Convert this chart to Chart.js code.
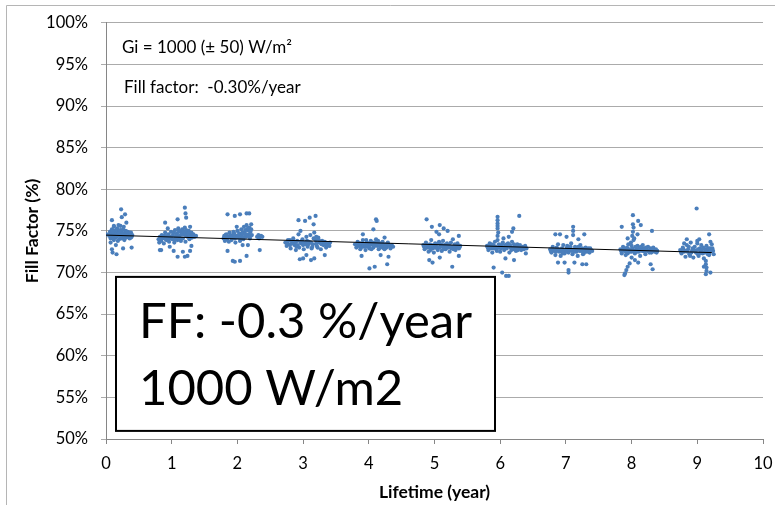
<!DOCTYPE html>
<html><head><meta charset="utf-8">
<script src="https://cdn.jsdelivr.net/npm/chart.js@4/dist/chart.umd.min.js"></script>
<style>html,body{margin:0;padding:0;background:#fff;}canvas{display:block;}</style>
</head><body>
<canvas id="c" width="775" height="505"></canvas>
<script>
// Fill factor (%) vs lifetime (year)
const year0 = [[0.05,74.4],[0.06,74.9],[0.07,74.1],[0.08,74.6],[0.09,75.2],[0.10,74.3],[0.11,74.8],[0.12,73.9],[0.13,74.5],[0.14,75.0],[0.15,74.2],[0.16,74.7],[0.17,75.3],[0.18,74.4],[0.19,74.9],[0.20,74.0],[0.21,74.6],[0.22,75.1],[0.23,74.3],[0.24,74.8],[0.25,74.5],[0.26,75.2],[0.27,74.1],[0.28,74.7],[0.29,74.4],[0.30,75.0],[0.31,74.2],[0.32,74.6],[0.33,74.9],[0.34,74.3],[0.35,74.7],[0.36,74.1],[0.37,74.5],[0.38,74.8],[0.39,74.3],[0.40,74.5],[0.12,75.5],[0.22,75.6],[0.18,73.8],[0.28,73.9],
  [0.06,74.6],[0.08,74.2],[0.10,74.9],[0.12,74.5],[0.14,74.3],[0.16,75.1],[0.18,74.6],[0.20,74.8],[0.22,74.4],[0.24,74.1],[0.26,74.7],[0.28,74.3],[0.30,74.6],[0.32,74.9],[0.34,74.5],[0.36,74.8],[0.38,74.2],[0.11,74.1],[0.21,75.0],[0.31,74.4],
  [0.23,77.6],[0.29,77.0],[0.24,76.65],[0.09,76.3],[0.31,76.0],[0.12,75.6],[0.19,75.7],[0.27,75.5],[0.09,72.8],[0.10,72.4],[0.16,72.2],[0.26,72.9],[0.39,73.0],[0.15,73.3],[0.07,73.6],[0.01,74.6]];
const year1 = [[0.80,74.0],[0.81,73.6],[0.82,74.3],[0.84,73.8],[0.85,74.5],[0.86,74.1],[0.88,73.5],[0.89,74.4],[0.90,74.8],[0.92,73.9],[0.93,74.2],[0.95,74.6],[0.96,73.7],[0.98,74.3],[0.99,74.9],[1.01,74.0],[1.02,74.5],[1.04,73.6],[1.05,75.1],[1.06,74.2],[1.08,74.7],[1.09,73.9],[1.10,75.3],[1.12,74.4],[1.13,74.9],[1.14,73.8],[1.16,75.2],[1.17,74.1],[1.19,74.6],[1.20,75.4],[1.21,73.7],[1.23,74.8],[1.24,74.3],[1.26,75.0],[1.27,74.0],[1.29,74.5],[1.31,74.2],[1.33,74.6],[1.35,74.3],[1.37,74.4],
  [0.83,74.1],[0.87,74.3],[0.91,74.0],[0.94,74.4],[0.97,74.1],[1.00,74.3],[1.03,74.8],[1.07,74.4],[1.11,74.1],[1.15,74.6],[1.18,74.9],[1.22,74.4],[1.25,74.7],[1.28,74.3],[1.30,74.8],[1.32,74.4],[1.11,75.0],[1.22,75.1],[0.95,74.2],[1.05,73.9],
  [1.20,77.8],[1.21,77.1],[1.22,76.6],[1.09,76.4],[0.90,76.0],[1.28,75.5],[0.94,75.3],[0.82,72.7],[0.84,72.7],[0.97,73.1],[1.09,71.9],[1.20,71.9],[1.24,72.0],[1.28,72.6],[1.17,72.5],[1.03,72.6],[1.30,73.2]];
const year2 = [[1.79,74.1],[1.80,74.4],[1.81,73.8],[1.83,74.6],[1.84,74.0],[1.86,74.3],[1.87,73.7],[1.88,74.8],[1.90,74.2],[1.91,73.9],[1.93,74.5],[1.94,74.9],[1.96,74.1],[1.97,73.6],[1.99,74.4],[2.00,75.0],[2.01,74.2],[2.03,74.7],[2.04,73.8],[2.06,75.2],[2.07,74.5],[2.09,74.0],[2.10,75.5],[2.11,74.8],[2.13,74.3],[2.14,75.7],[2.15,75.1],[2.17,74.6],[2.18,75.4],[2.19,74.1],[2.20,74.9],[2.21,75.8],[2.22,74.5],[2.30,74.3],[2.32,74.5],[2.34,74.2],[2.36,74.4],[2.38,74.3],[2.33,74.1],
  [1.80,74.2],[1.82,74.5],[1.85,74.2],[1.89,74.5],[1.92,74.2],[1.95,74.4],[1.98,74.2],[2.02,74.5],[2.05,74.3],[2.08,74.8],[2.12,75.1],[2.16,75.3],[2.19,75.0],[2.21,75.2],[2.08,74.2],[2.16,74.4],[2.12,74.6],[2.20,74.4],[1.95,74.7],[2.05,74.0],
  [1.85,77.0],[1.96,76.8],[2.04,77.0],[2.14,77.1],[2.18,77.1],[1.85,72.6],[1.93,71.4],[1.96,71.3],[2.04,71.4],[2.14,72.0],[1.99,75.5],[2.08,73.3],[2.16,73.3],[2.34,72.7]];
const year3 = [[2.73,73.6],[2.75,73.2],[2.77,73.9],[2.79,73.4],[2.81,72.9],[2.83,73.7],[2.85,74.1],[2.87,73.3],[2.89,72.7],[2.91,73.8],[2.93,74.6],[2.94,73.0],[2.96,75.0],[2.97,73.5],[2.99,74.0],[3.01,72.8],[3.03,73.6],[3.05,74.3],[3.07,73.1],[3.09,73.7],[3.11,74.5],[3.13,72.9],[3.15,73.4],[3.17,74.8],[3.19,73.9],[3.21,73.2],[3.23,74.2],[3.25,73.6],[3.27,72.8],[3.29,73.8],[3.31,73.3],[3.33,73.7],[3.35,73.0],[3.37,73.5],[3.39,73.3],[3.41,73.6],[2.80,73.9],[3.00,73.3],[3.20,73.5],
  [2.76,73.5],[2.80,73.3],[2.84,73.5],[2.88,73.6],[2.92,73.3],[2.96,73.7],[3.00,73.6],[3.04,73.4],[3.08,73.4],[3.12,73.6],[3.16,74.1],[3.20,74.3],[3.24,73.9],[3.28,73.4],[3.32,73.5],[3.36,73.3],[3.14,73.1],[3.22,73.0],[2.90,73.1],[3.06,73.8],
  [2.93,76.3],[3.03,76.2],[3.10,76.6],[3.19,76.8],[3.16,75.8],[2.95,71.6],[3.00,71.7],[3.12,71.5],[3.17,71.7],[3.33,72.1],[3.40,73.2],[3.05,72.1]];
const year4 = [[3.79,73.4],[3.81,73.0],[3.83,73.7],[3.85,73.2],[3.87,72.8],[3.89,73.5],[3.91,73.9],[3.93,73.1],[3.95,72.7],[3.97,73.6],[3.99,73.3],[4.01,72.9],[4.03,73.8],[4.05,73.4],[4.07,73.0],[4.09,73.6],[4.11,74.0],[4.13,73.2],[4.15,72.8],[4.17,73.5],[4.19,73.1],[4.21,73.7],[4.23,72.9],[4.25,73.4],[4.27,73.0],[4.29,73.6],[4.31,73.2],[4.33,72.9],[4.35,73.3],[4.37,73.1],[3.90,73.3],[4.00,73.5],[4.10,73.3],[4.20,73.4],
  [3.82,73.3],[3.86,73.5],[3.90,73.1],[3.94,73.4],[3.98,73.1],[4.02,73.3],[4.06,73.6],[4.08,73.2],[4.12,73.5],[4.16,73.3],[4.18,73.0],[4.22,73.3],[4.26,73.2],[4.30,73.4],[4.34,73.1],[3.96,73.9],[4.14,73.8],[4.04,72.8],[4.24,72.8],[3.88,73.0],
  [4.11,76.4],[4.12,76.2],[4.07,75.2],[3.91,74.6],[3.89,72.0],[4.01,70.5],[4.09,70.7],[4.28,71.0],[4.30,71.9],[4.24,74.2],[4.18,72.1]];
const year5 = [[4.83,73.3],[4.85,72.8],[4.87,73.6],[4.89,73.0],[4.91,72.5],[4.93,73.4],[4.95,73.9],[4.97,72.9],[4.99,72.4],[5.01,73.5],[5.03,73.1],[5.05,72.7],[5.07,73.7],[5.09,73.2],[5.11,72.6],[5.13,73.8],[5.15,73.3],[5.17,72.8],[5.19,73.5],[5.21,73.0],[5.23,72.5],[5.25,73.6],[5.27,73.1],[5.29,72.8],[5.31,73.4],[5.33,73.0],[5.35,73.5],[5.37,72.9],[5.39,73.2],[4.90,73.2],[5.00,73.0],[5.10,73.4],[5.20,73.2],
  [4.84,73.1],[4.88,73.3],[4.92,73.0],[4.96,73.3],[5.00,73.3],[5.04,72.9],[5.08,73.0],[5.12,73.1],[5.16,73.0],[5.18,73.3],[5.22,73.3],[5.26,72.9],[5.30,73.1],[5.34,73.2],[5.38,73.0],[4.94,72.7],[5.06,73.5],[5.14,72.8],[5.24,73.0],[5.32,72.7],
  [4.88,76.4],[4.96,75.5],[5.08,75.7],[5.14,75.3],[5.03,74.9],[5.07,74.6],[5.20,75.0],[5.37,74.4],[5.28,74.0],[4.92,71.5],[4.97,71.2],[5.08,71.8],[5.27,70.7],[5.37,72.0]];
const year6 = [[5.80,73.2],[5.82,72.7],[5.84,73.5],[5.86,72.9],[5.88,72.4],[5.90,73.3],[5.92,73.7],[5.94,72.8],[5.96,73.9],[5.98,73.4],[6.00,72.5],[6.02,73.1],[6.04,73.6],[6.06,72.7],[6.08,73.3],[6.10,72.9],[6.12,73.5],[6.14,72.4],[6.16,73.0],[6.18,73.7],[6.20,72.8],[6.22,73.2],[6.24,72.6],[6.26,73.4],[6.28,72.9],[6.30,73.3],[6.32,72.7],[6.34,73.1],[6.36,72.8],[6.38,73.2],[6.40,72.9],[5.90,72.9],[6.00,73.2],[6.10,73.4],[6.20,73.0],
  [5.81,73.0],[5.85,73.2],[5.89,73.1],[5.93,73.1],[5.97,73.0],[6.01,72.9],[6.05,73.0],[6.09,73.1],[6.13,73.2],[6.17,72.7],[6.21,73.4],[6.25,73.0],[6.29,73.1],[6.33,73.0],[6.37,73.0],[5.87,73.4],[6.03,73.4],[6.15,73.3],[6.27,72.7],[5.95,72.6],
  [5.96,76.7],[5.96,76.3],[5.96,75.9],[5.96,75.6],[5.96,75.3],[5.97,74.8],[5.96,74.4],[6.29,76.8],[6.20,75.3],[6.18,74.9],[6.13,74.3],[6.05,74.1],[5.90,70.6],[6.03,70.0],[6.08,71.7],[6.21,71.5],[6.39,72.3],[6.09,69.6],[6.13,69.6]];
const year7 = [[6.76,72.8],[6.78,72.4],[6.80,73.1],[6.82,72.6],[6.84,72.1],[6.86,73.0],[6.88,73.4],[6.90,72.5],[6.92,72.0],[6.94,72.9],[6.96,73.3],[6.98,72.3],[7.00,72.7],[7.02,73.2],[7.04,72.4],[7.06,72.9],[7.08,73.5],[7.10,72.2],[7.12,72.8],[7.14,73.1],[7.16,72.5],[7.18,72.0],[7.20,72.9],[7.22,73.3],[7.24,72.6],[7.26,72.2],[7.28,72.8],[7.30,73.0],[7.32,72.5],[7.34,72.9],[7.36,72.4],[7.38,72.7],[7.40,72.6],[6.85,72.7],[7.00,72.5],[7.15,72.7],[7.30,72.7],
  [6.77,72.6],[6.81,72.8],[6.85,72.5],[6.89,72.8],[6.93,72.6],[6.97,72.6],[7.01,72.9],[7.05,72.7],[7.09,72.6],[7.13,72.5],[7.17,72.8],[7.21,72.6],[7.25,72.9],[7.29,72.5],[7.33,72.7],[7.37,72.9],[6.95,72.3],[7.07,73.1],[7.19,73.1],[7.27,72.3],
  [7.11,75.5],[7.11,75.0],[7.11,74.5],[6.84,74.6],[6.91,74.6],[7.01,74.3],[7.28,74.6],[7.19,74.0],[6.88,71.2],[6.98,71.2],[7.04,70.3],[7.04,70.0],[7.25,71.0],[7.31,71.0],[7.13,71.2]];
const year8 = [[7.83,72.8],[7.85,72.3],[7.87,73.1],[7.89,72.6],[7.91,72.1],[7.93,73.0],[7.95,73.4],[7.97,72.5],[7.99,73.6],[8.01,72.9],[8.03,73.9],[8.05,72.3],[8.07,72.8],[8.09,73.2],[8.11,72.5],[8.13,72.0],[8.15,72.9],[8.17,73.3],[8.19,72.6],[8.21,72.2],[8.23,72.8],[8.25,73.1],[8.27,72.4],[8.29,72.9],[8.31,72.6],[8.33,73.0],[8.35,72.5],[8.37,72.8],[8.39,72.6],[7.90,72.7],[8.00,72.5],[8.10,72.7],[8.20,72.9],[8.01,74.4],[8.02,74.9],[8.03,75.4],[8.02,75.8],[8.04,74.1],
  [7.84,72.6],[7.88,72.9],[7.92,72.5],[7.96,72.8],[8.00,73.2],[8.04,72.6],[8.08,72.5],[8.12,72.9],[8.16,72.6],[8.20,72.5],[8.24,72.6],[8.28,72.7],[8.32,72.8],[8.36,72.7],[8.38,72.4],[7.94,72.3],[8.06,73.1],[8.14,73.1],[8.22,73.0],[8.30,72.4],
  [8.02,76.9],[8.10,76.2],[8.14,75.7],[7.85,75.5],[8.31,75.0],[7.94,74.1],[8.09,74.6],[8.05,71.5],[7.97,71.1],[7.94,70.7],[7.92,70.3],[7.90,69.9],[7.89,69.7],[8.10,71.2],[8.29,71.0],[8.32,70.4],[8.00,71.8]];
const year9 = [[8.74,72.7],[8.76,72.3],[8.78,73.0],[8.80,72.5],[8.82,71.9],[8.84,73.3],[8.86,72.8],[8.88,72.2],[8.90,73.6],[8.92,72.6],[8.94,71.8],[8.96,73.1],[8.98,72.4],[9.00,73.5],[9.02,72.0],[9.04,72.9],[9.06,73.3],[9.08,72.3],[9.10,71.7],[9.12,72.8],[9.14,73.2],[9.16,72.5],[9.18,72.1],[9.20,72.9],[9.22,73.4],[9.24,72.6],[9.25,72.2],[8.85,72.5],[8.95,72.7],[9.05,72.5],[9.15,72.7],[8.80,73.5],[9.00,73.8],[9.20,73.7],
  [8.75,72.5],[8.79,72.8],[8.83,72.6],[8.87,73.1],[8.91,72.4],[8.93,72.9],[8.97,72.6],[9.01,72.8],[9.03,72.3],[9.07,72.7],[9.09,73.0],[9.11,72.4],[9.13,72.6],[9.17,72.9],[9.19,72.4],[9.21,72.6],[9.23,72.9],[8.89,72.0],[9.01,72.2],[9.16,72.2],
  [8.99,77.7],[9.18,74.6],[8.84,74.0],[9.03,74.0],[9.13,71.4],[9.13,71.0],[9.14,70.6],[9.14,70.2],[9.13,69.8],[9.20,70.0],[9.10,70.7]];

const trendX = [0, 9.22];
const trendY = [74.5, 72.4];

const xTitle = 'Lifetime (year)';
const yTitle = 'Fill Factor (%)';
const noteLines = ['Gi = 1000 (\u00B1 50) W/m\u00B2', 'Fill factor:  -0.30%/year'];
const boxLines = ['FF: -0.3 %/year', '1000 W/m2'];

const FONT = 'Lato, "Open Sans", sans-serif';
const scatterData = [year0, year1, year2, year3, year4, year5, year6, year7, year8, year9]
  .flat().map(p => ({x: p[0], y: p[1]}));
const trendData = trendX.map((x, i) => ({x, y: trendY[i]}));

const overlay = {
  id: 'overlay',
  beforeDraw(chart) {
    const ctx = chart.ctx;
    ctx.save();
    ctx.fillStyle = '#fff';
    ctx.fillRect(0, 0, chart.width, chart.height);
    ctx.strokeStyle = '#b5b5b5';
    ctx.lineWidth = 1;
    ctx.beginPath();
    ctx.moveTo(6.5, chart.height); ctx.lineTo(6.5, 5.5); ctx.lineTo(chart.width, 5.5);
    ctx.stroke();
    ctx.restore();
  },
  afterDatasetsDraw(chart) {
    const ctx = chart.ctx, ca = chart.chartArea;
    ctx.save();
    ctx.fillStyle = '#000';
    ctx.textBaseline = 'alphabetic';
    ctx.textAlign = 'left';
    ctx.font = '17px ' + FONT;
    ctx.fillText(noteLines[0], ca.left + 16, ca.top + 30);
    ctx.fillText(noteLines[1], ca.left + 18, ca.top + 70.5);
    const bx = ca.left + 10, by = ca.top + 254, bw = 379, bh = 154;
    ctx.fillStyle = '#fff';
    ctx.fillRect(bx, by, bw, bh);
    ctx.strokeStyle = '#000';
    ctx.lineWidth = 2;
    ctx.strokeRect(bx, by, bw, bh);
    ctx.fillStyle = '#000';
    ctx.font = '49px ' + FONT;
    ctx.fillText(boxLines[0], bx + 23, by + 61);
    ctx.fillText(boxLines[1], bx + 23, by + 128);
    ctx.restore();
  }
};

new Chart(document.getElementById('c'), {
  data: {
    datasets: [
      {type: 'line', data: trendData, borderColor: '#000', borderWidth: 1, pointRadius: 0, fill: false, tension: 0},
      {type: 'scatter', data: scatterData, backgroundColor: '#4a7ebb', borderWidth: 0, pointRadius: 2.1, pointStyle: 'circle'}
    ]
  },
  options: {
    responsive: false,
    animation: false,
    devicePixelRatio: 1,
    layout: {padding: {left: 6, right: 12, top: 22, bottom: 0}},
    plugins: {legend: {display: false}, tooltip: {enabled: false}},
    scales: {
      x: {
        type: 'linear', min: 0, max: 10,
        afterFit: s => { s.height = 66; s.paddingLeft = 0; s.paddingRight = 0; },
        ticks: {stepSize: 1, color: '#000', font: {family: FONT, size: 16.5}, padding: 10, maxRotation: 0},
        grid: {drawOnChartArea: false, drawTicks: true, tickLength: 5, color: '#868686'},
        border: {color: '#868686'},
        title: {display: true, text: xTitle, color: '#000', font: {family: FONT, size: 17.5, weight: 'bold'}, padding: {top: 0, bottom: 2.5}}
      },
      y: {
        type: 'linear', min: 50, max: 100,
        afterFit: s => { s.width = 100; },
        ticks: {stepSize: 5, color: '#000', font: {family: FONT, size: 16.5}, padding: 13, callback: v => v + '%'},
        grid: {drawTicks: true, tickLength: 5, color: '#ababab'},
        border: {color: '#868686'},
        title: {display: true, text: yTitle, color: '#000', font: {family: FONT, size: 17.5, weight: 'bold'}, padding: {top: 15.5, bottom: 0}}
      }
    }
  },
  plugins: [overlay]
});
</script>
</body></html>
